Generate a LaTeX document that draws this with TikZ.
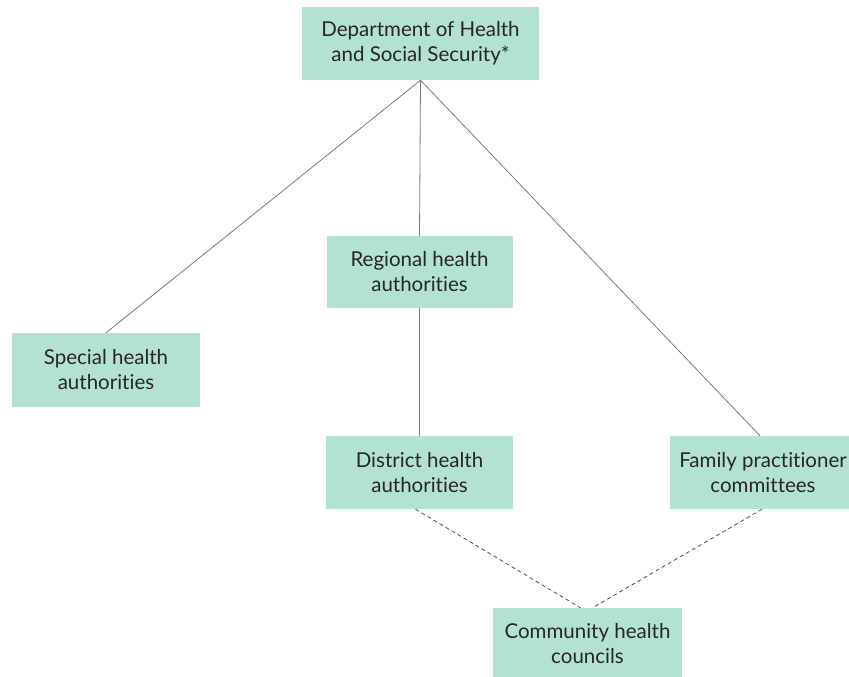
\documentclass[tikz,border=0pt]{standalone}
\usepackage{fontspec}
\setmainfont{Lato}[Ligatures=NoCommon]
\definecolor{boxfill}{RGB}{180,226,210}
\definecolor{linegrey}{RGB}{120,120,120}
\begin{document}
\begin{tikzpicture}[x=1pt,y=-1pt,
  orgbox/.style={fill=boxfill, draw=none, minimum width=186pt, minimum height=72pt,
    align=center, font=\fontsize{20.5}{25}\selectfont, inner sep=0pt, text=black!85},
  solidlink/.style={draw=linegrey, line width=0.8pt},
  dashlink/.style={draw=black!70, line width=0.8pt, dash pattern=on 4pt off 3pt}]
\useasboundingbox (0,0) rectangle (849,677);
\clip (0,0) rectangle (849,677);
\node[orgbox, minimum width=237pt, minimum height=73pt] (dhss) at (420.5,43.5) {Department of Health\\and Social Security*};
\node[orgbox] (rha) at (419.5,272) {Regional health\\authorities};
\node[orgbox, minimum width=188pt, minimum height=74pt] (sha) at (106,370) {Special health\\authorities};
\node[orgbox, minimum width=187pt, minimum height=73pt] (dha) at (419.5,472.5) {District health\\authorities};
\node[orgbox, minimum width=186pt, minimum height=73pt] (fpc) at (763,472.5) {Family practitioner\\committees};
\node[orgbox, minimum width=189pt, minimum height=72pt] (chc) at (587.5,644) {Community health\\councils};
\draw[solidlink] (dhss.south) -- (sha.north);
\draw[solidlink] (dhss.south) -- (rha.north);
\draw[solidlink] (dhss.south) -- ([xshift=-3pt]fpc.north);
\draw[solidlink] (rha.south) -- (dha.south |- dha.north);
\draw[dashlink] ([xshift=-4pt]dha.south) -- ([xshift=-7pt]chc.north);
\draw[dashlink] ([xshift=-1pt]fpc.south) -- ([xshift=5pt]chc.north);
\end{tikzpicture}
\end{document}
